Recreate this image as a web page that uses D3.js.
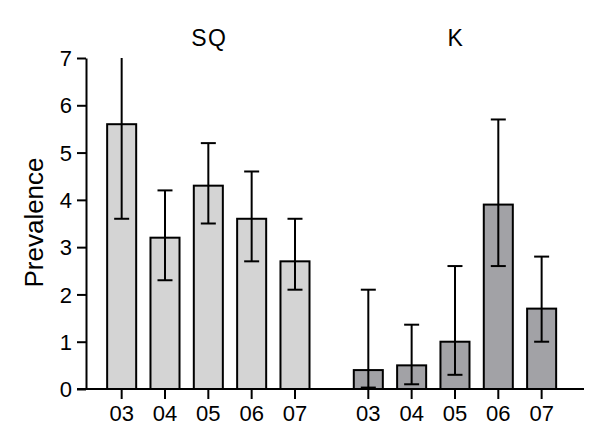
<!DOCTYPE html>
<html>
<head>
<meta charset="utf-8">
<script src="https://cdn.jsdelivr.net/npm/d3@7"></script>
<style>
  body { margin: 0; background: #fff; }
  svg { display: block; }
  text { font-family: "Liberation Sans", Arial, sans-serif; fill: #000; }
</style>
</head>
<body>
<div id="vis"></div>
<script>
const WIDTH = 600;
const HEIGHT = 444;

// datos
const groups = ["SQ", "K"];
const years = ["03", "04", "05", "06", "07"];
const sqValues = [5.6, 3.2, 4.3, 3.6, 2.7];
const sqLow = [3.6, 2.3, 3.5, 2.7, 2.1];
const sqHigh = [7.0, 4.2, 5.2, 4.6, 3.6];
const kValues = [0.4, 0.5, 1.0, 3.9, 1.7];
const kLow = [0.03, 0.1, 0.3, 2.6, 1.0];
const kHigh = [2.1, 1.36, 2.6, 5.7, 2.8];
const yTicks = [0, 1, 2, 3, 4, 5, 6, 7];

const fills = { SQ: "#d4d4d4", K: "#a2a2a6" };

const series = [
  { group: "SQ", values: sqValues, low: sqLow, high: sqHigh },
  { group: "K", values: kValues, low: kLow, high: kHigh }
];

const SVG = d3.select("#vis").append("svg")
  .attr("width", WIDTH).attr("height", HEIGHT);

const y = d3.scaleLinear().domain([0, 7]).range([389, 58]);

const xGroup = d3.scaleBand()
  .domain(groups)
  .range([100, 563.3])
  .paddingInner(0.1216)
  .paddingOuter(0);

const xYear = d3.scaleBand()
  .domain(years)
  .range([0, xGroup.bandwidth()])
  .paddingInner(0.33)
  .paddingOuter(0.165);

// eje y
const yAxis = SVG.append("g")
  .attr("transform", "translate(86,0)")
  .call(d3.axisLeft(y).tickValues(yTicks).tickFormat(d3.format("d"))
    .tickSize(9).tickSizeOuter(0).tickPadding(5));
yAxis.select(".domain").attr("stroke", "#000").attr("stroke-width", 2);
yAxis.selectAll(".tick line").attr("stroke", "#000").attr("stroke-width", 2);
yAxis.selectAll(".tick text").attr("font-size", 22).attr("dy", "0.35em");

// linea base
SVG.append("line")
  .attr("x1", 77).attr("x2", 584)
  .attr("y1", y(0)).attr("y2", y(0))
  .attr("stroke", "#000").attr("stroke-width", 2);

// etiqueta eje y
SVG.append("text")
  .attr("transform", `translate(43, ${(y(0) + y(7)) / 2 - 1}) rotate(-90)`)
  .attr("text-anchor", "middle")
  .attr("font-size", 26)
  .text("Prevalence");

series.forEach(s => {
  const g = SVG.append("g")
    .attr("transform", `translate(${xGroup(s.group)},0)`);

  const rows = years.map((yr, i) => ({ year: yr, value: s.values[i], low: s.low[i], high: s.high[i] }));

  g.selectAll("rect")
    .data(rows)
    .enter()
    .append("rect")
    .attr("x", d => xYear(d.year))
    .attr("width", xYear.bandwidth())
    .attr("y", d => y(d.value))
    .attr("height", d => y(0) - y(d.value))
    .attr("fill", fills[s.group])
    .attr("stroke", "#000")
    .attr("stroke-width", 2);

  const cx = d => xYear(d.year) + xYear.bandwidth() / 2;
  const capW = 7.5;

  g.selectAll(".err")
    .data(rows)
    .enter()
    .append("line")
    .attr("class", "err")
    .attr("x1", cx).attr("x2", cx)
    .attr("y1", d => y(d.low)).attr("y2", d => y(d.high))
    .attr("stroke", "#000").attr("stroke-width", 2);

  // caps (la barra que llega al tope del eje no tiene cap)
  g.selectAll(".capLow")
    .data(rows)
    .enter()
    .append("line")
    .attr("x1", d => cx(d) - capW).attr("x2", d => cx(d) + capW)
    .attr("y1", d => y(d.low)).attr("y2", d => y(d.low))
    .attr("stroke", "#000").attr("stroke-width", 2);

  g.selectAll(".capHigh")
    .data(rows.filter(d => d.high < 7))
    .enter()
    .append("line")
    .attr("x1", d => cx(d) - capW).attr("x2", d => cx(d) + capW)
    .attr("y1", d => y(d.high)).attr("y2", d => y(d.high))
    .attr("stroke", "#000").attr("stroke-width", 2);

  // eje x del grupo
  const xAxis = g.append("g")
    .attr("transform", `translate(0,${y(0)})`)
    .call(d3.axisBottom(xYear).tickSize(10).tickPadding(6));
  xAxis.select(".domain").remove();
  xAxis.selectAll(".tick line").attr("stroke", "#000").attr("stroke-width", 2);
  xAxis.selectAll(".tick text").attr("font-size", 22);

  // titulo del grupo
  g.append("text")
    .attr("x", xGroup.bandwidth() / 2 + 1)
    .attr("y", 46)
    .attr("text-anchor", "middle")
    .attr("font-size", 23)
    .attr("letter-spacing", 1.5)
    .text(s.group);
});
</script>
</body>
</html>
